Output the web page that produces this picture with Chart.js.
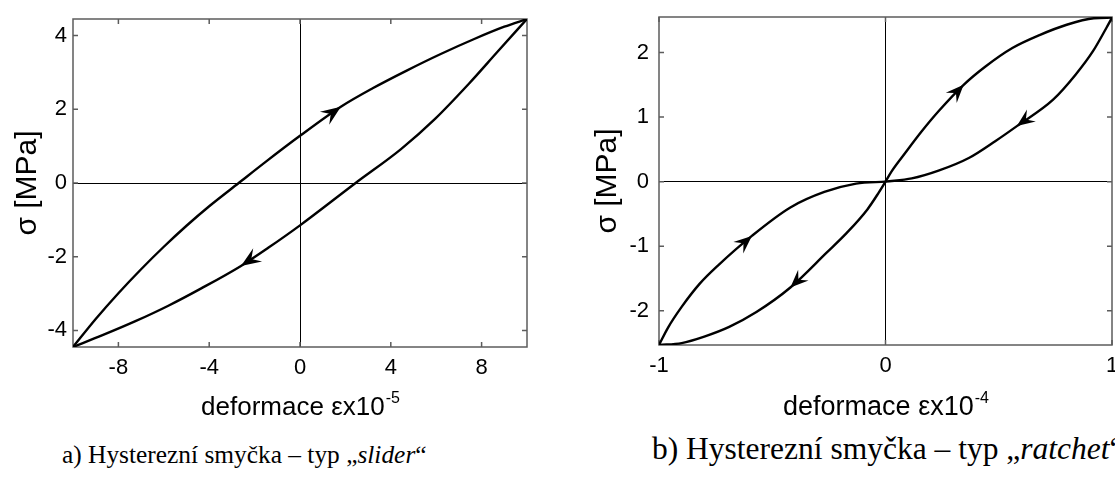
<!DOCTYPE html>
<html>
<head>
<meta charset="utf-8">
<script src="https://cdn.jsdelivr.net/npm/chart.js@4.4.1/dist/chart.umd.min.js"></script>
<style>
  html, body { margin: 0; padding: 0; background: #fff; overflow: hidden; }
  body { width: 1115px; height: 480px; position: relative; }
  .plot { position: absolute; top: 0; height: 430px; }
  .caption {
    position: absolute; line-height: 1; white-space: nowrap; color: #000;
    font-family: "Times New Roman", "Liberation Serif", serif;
  }
</style>
</head>
<body>
<div class="plot" style="left:0;width:557px"><canvas id="slider" width="557" height="430"></canvas></div>
<div class="plot" style="left:560px;width:555px"><canvas id="ratchet" width="555" height="430"></canvas></div>
<div class="caption" style="left:62px;top:442px;font-size:25.4px">a) Hysterezní smyčka – typ „<i>slider</i>“</div>
<div class="caption" style="left:652px;top:433px;font-size:31.5px">b) Hysterezní smyčka – typ „<i>ratchet</i>“</div>
<script>
// slider loop: loading branch (bottom-left -> top-right) and unloading branch back
const sliderUpX = [-10, -9, -8, -7, -6, -5, -4, -2.7, -1.5, 0, 1.8, 3.2, 4.7, 6.2, 7.65, 9, 10];
const sliderUpY = [-4.45, -3.69, -2.99, -2.34, -1.73, -1.16, -0.63, 0, 0.58, 1.28, 2.07, 2.57, 3.05, 3.5, 3.9, 4.24, 4.45];
const sliderDownX = [10, 8.7, 7.45, 5.95, 4.45, 2.45, 0, -1.4, -2.6, -4.35, -5.8, -7.25, -8.7, -10];
const sliderDownY = [4.45, 3.56, 2.7, 1.74, 0.92, 0, -1.15, -1.76, -2.25, -2.86, -3.33, -3.75, -4.13, -4.45];
const sliderXTicks = [-8, -4, 0, 4, 8];
const sliderYTicks = [-4, -2, 0, 2, 4];
const sliderArrowAt = [1.8, -2.6];   // one arrow per branch, tip x

// ratchet loop: two lobes meeting at the origin
const ratchetUpLX = [-1, -0.96, -0.9, -0.82, -0.74, -0.59, -0.42, -0.27, -0.13, 0];
const ratchetUpLY = [-2.53, -2.26, -1.94, -1.58, -1.3, -0.84, -0.4, -0.16, -0.03, 0];
const ratchetUpRX = [0, 0.027, 0.086, 0.16, 0.234, 0.345, 0.44, 0.56, 0.68, 0.8, 0.92, 1];
const ratchetUpRY = [0, 0.16, 0.44, 0.78, 1.09, 1.5, 1.78, 2.07, 2.27, 2.43, 2.53, 2.54];
const ratchetDnRX = [1, 0.975, 0.916, 0.84, 0.74, 0.58, 0.486, 0.37, 0.234, 0.116, 0];
const ratchetDnRY = [2.54, 2.38, 2.02, 1.66, 1.27, 0.86, 0.63, 0.37, 0.17, 0.05, 0];
const ratchetDnLX = [0, -0.03, -0.08, -0.17, -0.26, -0.42, -0.57, -0.69, -0.8, -0.9, -1];
const ratchetDnLY = [0, -0.17, -0.43, -0.79, -1.1, -1.64, -2.02, -2.25, -2.4, -2.5, -2.53];
const ratchetXTicks = [-1, 0, 1];
const ratchetYTicks = [-2, -1, 0, 1, 2];
const ratchetArrowAt = [-0.59, 0.345, 0.58, -0.42];

const FONT = 'Arial, "Liberation Sans", sans-serif';
Chart.defaults.font.family = FONT;
Chart.defaults.color = '#000';

function series(xs, ys) {
    return xs.map((x, i) => ({ x: x, y: ys[i] }));
}

function branch(xs, ys) {
    return {
        data: series(xs, ys),
        showLine: true,
        borderColor: '#000',
        borderWidth: 2.4,
        pointRadius: 0,
        cubicInterpolationMode: 'monotone'
    };
}

// frame, inward ticks, direction arrows and the x-axis caption
const frame = {
    id: 'frame',
    beforeDatasetsDraw(chart) {
        const { ctx, chartArea: a, scales: { x, y } } = chart;
        ctx.save();
        ctx.strokeStyle = '#5c5c5c';
        ctx.lineWidth = 1.5;
        ctx.strokeRect(a.left, a.top, a.width, a.height);
        ctx.beginPath();
        x.ticks.forEach(t => {
            const px = x.getPixelForValue(t.value);
            ctx.moveTo(px, a.bottom); ctx.lineTo(px, a.bottom - 5);
            ctx.moveTo(px, a.top); ctx.lineTo(px, a.top + 5);
        });
        y.ticks.forEach(t => {
            const py = y.getPixelForValue(t.value);
            ctx.moveTo(a.left, py); ctx.lineTo(a.left + 5, py);
            ctx.moveTo(a.right, py); ctx.lineTo(a.right - 5, py);
        });
        ctx.stroke();
        ctx.restore();
    },
    afterDatasetsDraw(chart, args, opts) {
        const { ctx, scales: { x, y } } = chart;
        const L = opts.arrowLen, W = opts.arrowWidth;
        ctx.save();
        ctx.fillStyle = '#000';
        opts.arrowAt.forEach((at, i) => {
            const pts = chart.data.datasets[i].data;
            for (let k = 0; k < pts.length - 1; k++) {
                const p = pts[k], q = pts[k + 1];
                if ((at - p.x) * (at - q.x) > 0 || p.x === q.x) continue;
                const t = (at - p.x) / (q.x - p.x);
                const px = x.getPixelForValue(at);
                const py = y.getPixelForValue(p.y + t * (q.y - p.y));
                const ang = Math.atan2(y.getPixelForValue(q.y) - y.getPixelForValue(p.y),
                                       x.getPixelForValue(q.x) - x.getPixelForValue(p.x));
                ctx.save();
                ctx.translate(px, py);
                ctx.rotate(ang);
                ctx.beginPath();
                ctx.moveTo(0, 0);
                ctx.lineTo(-L, W);
                ctx.lineTo(-0.62 * L, 0);
                ctx.lineTo(-L, -W);
                ctx.closePath();
                ctx.fill();
                ctx.restore();
                break;
            }
        });
        ctx.restore();
    },
    afterDraw(chart, args, opts) {
        const { ctx, chartArea: a } = chart;
        ctx.save();
        ctx.fillStyle = '#000';
        ctx.textBaseline = 'alphabetic';
        ctx.font = opts.titleSize + 'px ' + FONT;
        const w1 = ctx.measureText(opts.xTitle).width;
        ctx.font = '16px ' + FONT;
        const w2 = ctx.measureText(opts.xExp).width;
        const x0 = (a.left + a.right) / 2 - (w1 + w2) / 2;
        ctx.font = opts.titleSize + 'px ' + FONT;
        ctx.fillText(opts.xTitle, x0, opts.titleY);
        ctx.font = '16px ' + FONT;
        ctx.fillText(opts.xExp, x0 + w1 + 1, opts.titleY - 12);
        ctx.restore();
    }
};

function makeChart(id, cfg) {
    const zeroLine = c => (c.tick && c.tick.value === 0) ? '#000' : 'rgba(0,0,0,0)';
    return new Chart(document.getElementById(id), {
        type: 'scatter',
        data: { datasets: cfg.datasets },
        options: {
            responsive: false,
            animation: false,
            events: [],
            layout: { padding: { top: cfg.top, right: cfg.right, left: 0, bottom: 0 } },
            plugins: {
                legend: { display: false },
                tooltip: { enabled: false },
                frame: {
                    arrowAt: cfg.arrowAt, arrowLen: cfg.arrowLen, arrowWidth: cfg.arrowWidth,
                    xTitle: 'deformace εx10', xExp: cfg.exp, titleY: 415, titleSize: cfg.titleSize
                }
            },
            scales: {
                x: {
                    type: 'linear', min: cfg.xMin, max: cfg.xMax,
                    grid: { drawTicks: false, lineWidth: 1, color: zeroLine },
                    border: { display: false },
                    ticks: { font: { size: 22 }, padding: 8, maxRotation: 0, autoSkip: false, callback: v => String(v) },
                    afterBuildTicks: s => { s.ticks = cfg.xTicks.map(v => ({ value: v })); },
                    afterFit: s => { s.height = cfg.xHeight; s.paddingLeft = 0; s.paddingRight = 0; }
                },
                y: {
                    type: 'linear', min: cfg.yMin, max: cfg.yMax,
                    grid: { drawTicks: false, lineWidth: 1, color: zeroLine },
                    border: { display: false },
                    ticks: { font: { size: 22 }, padding: cfg.yPad, autoSkip: false, callback: v => String(v) },
                    title: { display: true, text: 'σ [MPa]', font: { size: 30 }, padding: { top: cfg.titlePad, bottom: 0 } },
                    afterBuildTicks: s => { s.ticks = cfg.yTicks.map(v => ({ value: v })); },
                    afterFit: s => { s.width = cfg.yWidth; s.paddingTop = 0; s.paddingBottom = 0; }
                }
            }
        },
        plugins: [frame]
    });
}

makeChart('slider', {
    datasets: [branch(sliderUpX, sliderUpY), branch(sliderDownX, sliderDownY)],
    xMin: -10, xMax: 10, yMin: -4.45, yMax: 4.45,
    xTicks: sliderXTicks, yTicks: sliderYTicks,
    arrowAt: sliderArrowAt, arrowLen: 20, arrowWidth: 8,
    top: 19, right: 30, xHeight: 83, yWidth: 73, yPad: 6, titlePad: 10,
    exp: '-5', titleSize: 26
});

makeChart('ratchet', {
    datasets: [branch(ratchetUpLX, ratchetUpLY), branch(ratchetUpRX, ratchetUpRY),
               branch(ratchetDnRX, ratchetDnRY), branch(ratchetDnLX, ratchetDnLY)],
    xMin: -1, xMax: 1, yMin: -2.53, yMax: 2.55,
    xTicks: ratchetXTicks, yTicks: ratchetYTicks,
    arrowAt: ratchetArrowAt, arrowLen: 18, arrowWidth: 7.5,
    top: 17, right: 3, xHeight: 85, yWidth: 99, yPad: 10, titlePad: 30,
    exp: '-4', titleSize: 27
});
</script>
</body>
</html>
